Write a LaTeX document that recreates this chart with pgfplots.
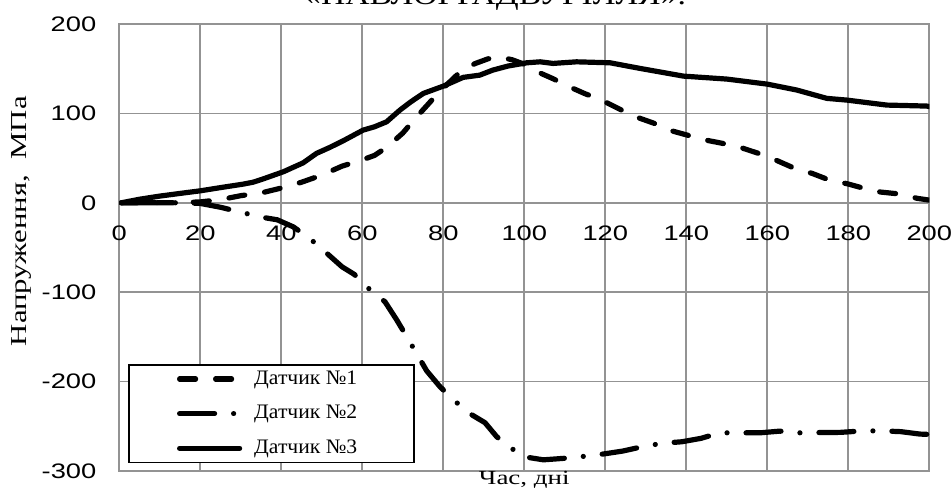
\documentclass[border=0pt]{standalone}
\usepackage{pgfplots}
\pgfplotsset{compat=1.18}
\usepackage{fontspec}
\setmainfont{Liberation Serif}
\newfontfamily\tickfont{Liberation Sans}[FakeStretch=1.3]
\newfontfamily\labfont{Liberation Serif}[FakeStretch=1.35]
\newfontfamily\legfont{Liberation Serif}[FakeStretch=1.05]
\newfontfamily\titfont{Liberation Serif}[FakeStretch=1.2]
\begin{document}
\begin{tikzpicture}
\begin{axis}[name=ax, scale only axis, width=405pt, height=223.5pt,
  xmin=0, xmax=200, ymin=-300, ymax=200,
  xtick={0,20,40,60,80,100,120,140,160,180,200},
  xticklabels={0,20,40,60,80,100,120,140,160,180,200},
  ytick={-300,-200,-100,0,100,200},
  yticklabels={-300,-200,-100,0,100,200},
  grid=major,
  major grid style={draw=gray!85, line width=0.9pt},
  axis line style={draw=gray!85, line width=0.9pt},
  major tick length=0pt,
  tick label style={font=\tickfont\fontsize{10.5}{12}\selectfont},
  xticklabel style={inner sep=0pt, anchor=north, yshift=123pt},
  yticklabel style={inner sep=0pt, anchor=east, xshift=-11.3pt},
  xlabel={Час, дні},
  xlabel style={at={(axis description cs:0.5,0)}, anchor=base, yshift=-7pt, inner sep=0pt, font=\labfont\fontsize{10}{12}\selectfont},
  ylabel={Напруження,\ \ МПа},
  ylabel style={at={(axis description cs:-0.1143,0.559)}, rotate=0, anchor=base, inner sep=0pt, font=\labfont\fontsize{11.4}{13}\selectfont},
  title={«ПАВЛОГРАДВУГІЛЛЯ».},
  title style={at={(axis description cs:0.464,1)}, anchor=base, yshift=4pt, inner sep=0pt, font=\titfont\fontsize{14}{16}\selectfont},
  legend style={at={(axis description cs:0.011,0.017)}, anchor=south west, draw=black, line width=0.8pt, fill=white,
    font=\legfont\fontsize{10.3}{12}\selectfont, inner xsep=24pt, inner ysep=1pt, row sep=5pt},
  legend cell align=left,
  legend image code/.code={\draw[#1] (0pt,0pt) -- (30pt,0pt);},
  every axis plot/.append style={black, line width=2.6pt, line cap=round, line join=round, no marks},
]
\addplot[dash pattern=on 8pt off 10pt] coordinates {
(0.5,0) (14,0) (20,1) (25,3.5) (30,8) (35,11) (40,16.5) (45,23) (50,31) (55,41) (60,48) (63,53) (66,62) (70,78) (73,94) (76,109) (79,124) (82,137) (85,150) (88,156) (91,161) (94,163) (97,160) (100,155) (103,147) (107,139) (111,130) (115,122) (119,115) (123,106) (127,97) (132,89) (136,81) (140,76) (145,70) (150,65.5) (154,61) (158,55) (162,48) (167,38) (171,33) (175,26) (180,21) (184,16) (188,12) (193,9.7) (197,5) (200,3)
};
\addlegendentry{\hspace{4pt}\makebox[54pt][l]{Датчик №1}}
\addplot[dash pattern=on 17.5pt off 9.5pt on 0.01pt off 9.5pt] coordinates {
(0.5,0) (15,0) (20,-0.7) (25,-5) (30,-10.5) (35,-16) (39,-19) (43,-27) (47,-39.8) (51,-55.5) (55,-71.6) (58,-80) (62,-97.7) (65.6,-110.7) (68.5,-131) (71,-150) (73.4,-168.5) (75.9,-188) (79.2,-205.8) (82,-218) (85.8,-233.8) (90.3,-246) (93.2,-261.7) (96,-272) (99.8,-284) (104.7,-287.5) (109.6,-285.9) (114,-284) (119.5,-281) (124.3,-277.7) (129,-273) (134,-269) (138.9,-267.3) (143.6,-263.5) (148.3,-257.3) (158.2,-257.3) (163.1,-255.4) (168.1,-257.3) (173,-257) (178,-256.8) (182.7,-255.4) (187.8,-255) (193,-256) (197.7,-258.7) (199.5,-259)
};
\addlegendentry{\hspace{4pt}\makebox[54pt][l]{Датчик №2}}
\addplot[solid] coordinates {
(0.5,0) (5,4) (10,7.5) (15,10.5) (20,13.4) (25,17) (30.6,20.9) (33,23) (35.2,26.2) (40.5,34.7) (45.4,44.7) (48.7,55.3) (52,62) (55.3,69.4) (60.2,81.3) (63,85) (66,90.6) (69.3,103.7) (72,113) (75.1,122.4) (80,130.5) (84.9,140.3) (89,142.8) (92.2,148.4) (96,153) (100.6,156.6) (103.9,157.7) (107.1,155.9) (112.9,157.7) (121.2,156.6) (128.6,150.3) (139.3,141.7) (150,138.4) (159.9,132.8) (167.3,126.1) (174.7,116.8) (179.6,114.9) (189.5,109.3) (199.4,108.2) (200,107.5)
};
\addlegendentry{\hspace{4pt}\makebox[54pt][l]{Датчик №3}}
\end{axis}
\pgfresetboundingbox
\path[use as bounding box] ([shift={(-59.65pt,-10.5pt)}]ax.south west) rectangle ([shift={(416.35pt,235.5pt)}]ax.south west);
\end{tikzpicture}
\end{document}
